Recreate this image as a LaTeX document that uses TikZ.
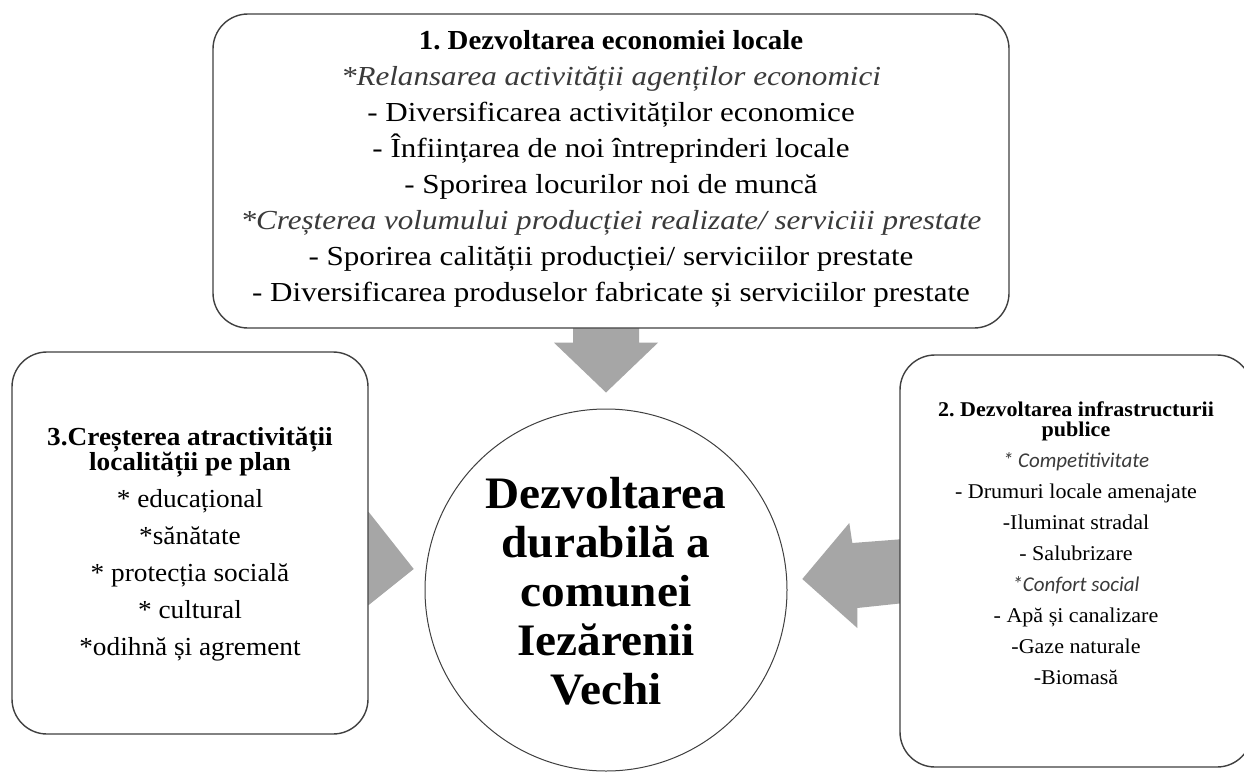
\documentclass[tikz,border=0pt]{standalone}
\usepackage{fontspec}
\setmainfont{Liberation Serif}[FakeStretch=1.05]
\newfontfamily\wideserif{Liberation Serif}[FakeStretch=1.13]
\newfontfamily\carlito{Carlito}
\usetikzlibrary{calc}
\pgfdeclarelayer{bg}
\pgfsetlayers{bg,main}
\definecolor{edgegray}{HTML}{404040}
\definecolor{arrowgray}{HTML}{A6A6A6}
\definecolor{itgray}{HTML}{3A3A3A}
\frenchspacing
\begin{document}
\begin{tikzpicture}[x=1pt,y=-1pt,
  panel/.style={draw=edgegray,line width=1.4pt,rounded corners=35pt,fill=white,inner sep=0pt},
  blockarrow/.style={fill=arrowgray,draw=none},
  txt/.style={align=center,inner sep=0pt,text=black}]
\useasboundingbox (0,0) rectangle (1244,776);

% panels
\node[panel,minimum width=796pt,minimum height=314pt] (eco) at (611,171) {};
\node[panel,minimum width=356pt,minimum height=382pt] (atr) at (190,543) {};
\node[panel,minimum width=352pt,minimum height=412pt] (inf) at (1076,561) {};
\node[draw=edgegray,line width=1pt,circle,fill=white,minimum size=362pt,inner sep=0pt] (core) at (606,590) {};

% background and block arrows
\begin{pgfonlayer}{bg}
\fill[white] (0,0) rectangle (1244,776);
\coordinate (dbase) at (eco.south -| core.center);
\fill[blockarrow] ($(dbase)+(-33,-5)$) -- ($(dbase)+(33,-5)$) -- ($(dbase)+(33,14)$) -- ($(dbase)+(52,14)$)
  -- ($(core.north)+(0,-16)$) -- ($(dbase)+(-52,14)$) -- ($(dbase)+(-33,14)$) -- cycle;
\fill[blockarrow] ($(atr.east)+(-5,-31)$) -- ($(atr.east)+(0,-31)$) -- ($(atr.east)+(45,26)$)
  -- ($(atr.east)+(0,62)$) -- ($(atr.east)+(-5,62)$) -- cycle;
\fill[blockarrow] ($(inf.west)+(5,-22)$) -- ($(inf.west)+(-47,-18)$) -- ($(inf.west)+(-50,-38)$)
  -- ($(inf.west)+(-97,18)$) -- ($(inf.west)+(-42,67)$) -- ($(inf.west)+(-42,47)$) -- ($(inf.west)+(5,42)$) -- cycle;
\end{pgfonlayer}

% texts
\node[txt,font=\wideserif\fontsize{27.5}{36}\selectfont] (ecotxt) at (611,169) {%
{\rmfamily\bfseries 1. Dezvoltarea economiei locale}\\
\textcolor{itgray}{\itshape *Relansarea activității agenților economici}\\
- Diversificarea activităților economice\\
- Înființarea de noi întreprinderi locale\\
- Sporirea locurilor noi de muncă\\
\textcolor{itgray}{\itshape *Creșterea volumului producției realizate/ serviciii prestate}\\
- Sporirea calității producției/ serviciilor prestate\\
- Diversificarea produselor fabricate și serviciilor prestate};

\node[txt,font=\fontsize{26}{37}\selectfont] (atrtxt) at (190,544) {%
\textbf{3.Creșterea atractivității}\\[-12pt]
\textbf{localității pe plan}\\
* educațional\\
*sănătate\\
* protecția socială\\
* cultural\\
*odihnă și agrement};

\node[txt,font=\fontsize{21}{31}\selectfont] (inftxt) at (1076,543) {%
\textbf{2. Dezvoltarea infrastructurii}\\[-11pt]
\textbf{publice}\\
\textcolor{itgray}{\carlito\itshape * Competitivitate}\\
- Drumuri locale amenajate\\
-Iluminat stradal\\
- Salubrizare\\
\textcolor{itgray}{\carlito\itshape *Confort social}\\
- Apă și canalizare\\
-Gaze naturale\\
-Biomasă};

\node[txt,font=\fontsize{45}{49}\selectfont\bfseries] (coretxt) at (606,591) {%
Dezvoltarea\\
durabilă a\\
comunei\\
Iezărenii\\
Vechi};
\end{tikzpicture}
\end{document}
